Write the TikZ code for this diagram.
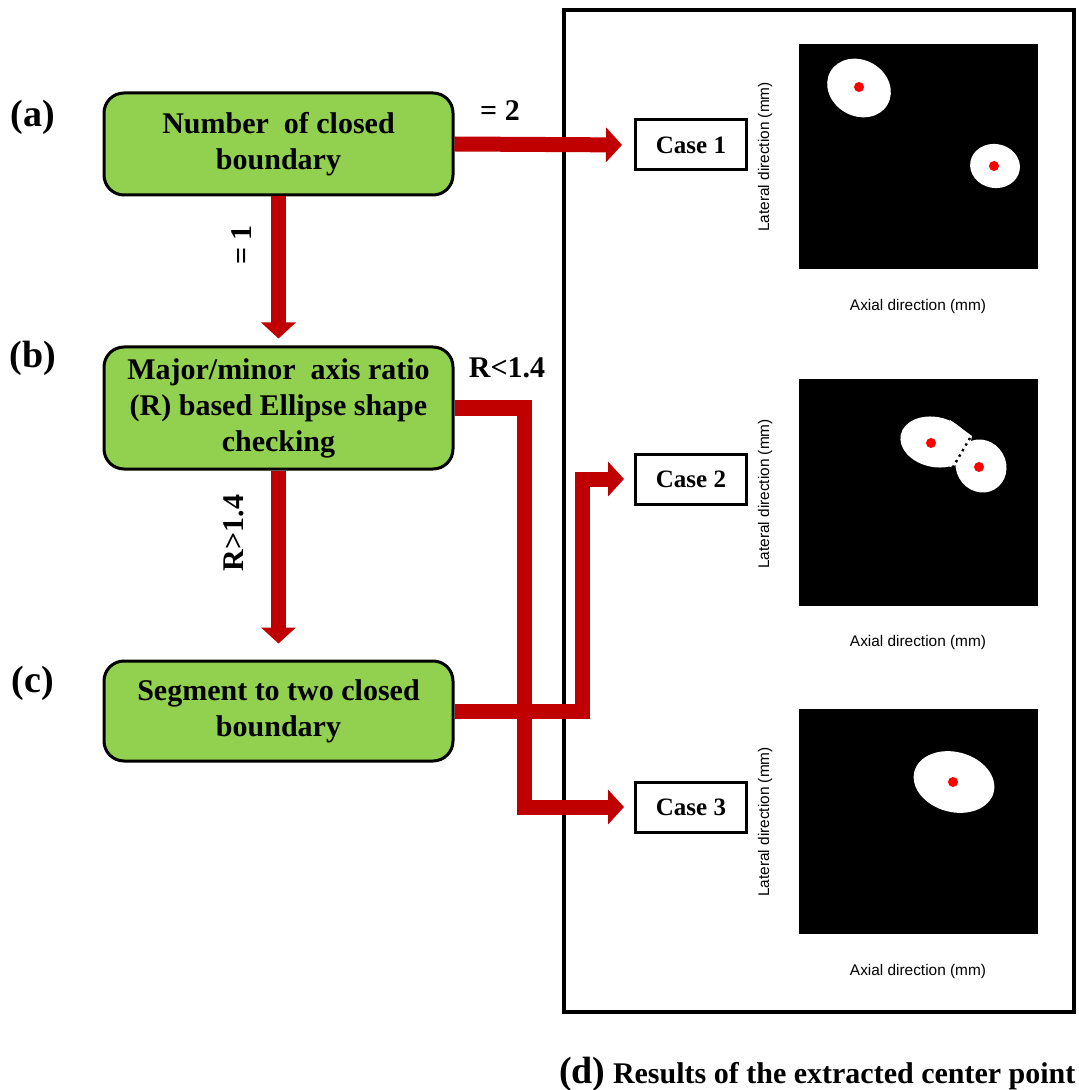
\documentclass[tikz,border=0pt]{standalone}
\usepackage{fontspec}
\setmainfont{Liberation Serif}
\newfontfamily\axisfont{Liberation Sans}
\usepackage{xcolor}
\usetikzlibrary{arrows.meta,positioning}
\definecolor{boxgreen}{HTML}{92D050}
\definecolor{flowred}{HTML}{C00000}

\begin{document}
\begin{tikzpicture}[x=0.5pt, y=-0.5pt,
  stepbox/.style={draw, line width=1.5pt, fill=boxgreen, rounded corners=10pt, minimum width=174.5pt, inner sep=0pt, align=center, font=\bfseries\fontsize{15}{18}\selectfont},
  casebox/.style={draw, line width=1.5pt, fill=white, minimum width=55.5pt, minimum height=25pt, inner sep=0pt, font=\bfseries\fontsize{12.5}{14}\selectfont},
  flow/.style={draw=flowred, line width=7.5pt, -{Triangle[length=8pt, width=17pt]}},
  tag/.style={font=\bfseries\fontsize{19}{22}\selectfont},
  cond/.style={font=\bfseries\fontsize{15}{18}\selectfont},
  axislab/.style={font=\axisfont\fontsize{7.7}{9}\selectfont}]

\useasboundingbox (0,0) rectangle (1078,1090);

\draw[line width=2pt] (564,10) rectangle (1074,1012);

\node[tag] (la) at (33,117) {(a)};
\node[tag] (lb) at (33,358) {(b)};
\node[tag] (lc) at (33,683) {(c)};

\node[stepbox, minimum height=51pt] (numb) at (278.5,144) {Number\ \ of closed\\boundary};
\node[stepbox, minimum height=61pt] (ratio) at (278.5,408) {Major/minor\ \ axis ratio\\(R) based Ellipse shape\\checking};
\node[stepbox, minimum height=50pt] (seg) at (278.5,711) {Segment to two closed\\boundary};

\node[casebox] (c1) at (691,145) {Case 1};
\node[casebox] (c2) at (691,479) {Case 2};
\node[casebox] (c3) at (691,807) {Case 3};

\draw[flow, shorten >=6pt] (numb.east) -- (c1.west);
\draw[flow, shorten >=3.5pt] (numb.south) -- (ratio.north);
\draw[flow, shorten >=8pt] (ratio.south) -- (seg.north);
\draw[flow, shorten >=5pt] (ratio.east) -- ++(70,0) |- (c3.west);
\draw[flow, shorten >=5pt] (seg.east) -- ++(128,0) |- (c2.west);

\node[cond] (eq2) at (500,111) {= 2};
\node[cond, rotate=90] (eq1) at (242,245) {= 1};
\node[cond] (lt) at (507,368) {R<1.4};
\node[cond, rotate=90] (gt) at (234,533) {R>1.4};

% case 1 image
\fill (799,44) rectangle (1038,269);
\fill[white, rotate around={-30:(859,88)}] (859,88) ellipse [x radius=33, y radius=28];
\fill[white, rotate around={-10:(995,166)}] (995,166) ellipse [x radius=25, y radius=22];
\fill[red] (859,87) circle (5);
\fill[red] (994,166) circle (5);
\node[axislab] (ax1) at (918,307) {Axial direction (mm)};
\node[axislab, rotate=90] (lat1) at (765,157) {Lateral direction (mm)};

% case 2 image
\fill (799,379) rectangle (1038,606);
\fill[white, rotate around={-12:(935,442)}] (935,442) ellipse [x radius=35, y radius=25];
\fill[white, rotate around={30:(981,466)}] (981,466) ellipse [x radius=25, y radius=27];
\fill[white] (950,420) -- (972,436) -- (966,462) -- (950,467) -- (940,455) -- cycle;
\draw[dotted, line width=1.2pt] (970,438) -- (953,467);
\fill[red] (931,443) circle (5);
\fill[red] (979,467) circle (5);
\node[axislab] (ax2) at (918,643) {Axial direction (mm)};
\node[axislab, rotate=90] (lat2) at (765,494) {Lateral direction (mm)};

% case 3 image
\fill (799,709) rectangle (1038,934);
\fill[white, rotate around={-15:(954,782)}] (954,782) ellipse [x radius=41, y radius=30];
\fill[red] (953,782) circle (5);
\node[axislab] (ax3) at (918,972) {Axial direction (mm)};
\node[axislab, rotate=90] (lat3) at (765,822) {Lateral direction (mm)};

\node[cond, anchor=base west] (res) at (552,1083) {{\fontsize{19}{22}\selectfont (d)} Results of the extracted center point};
\end{tikzpicture}
\end{document}
